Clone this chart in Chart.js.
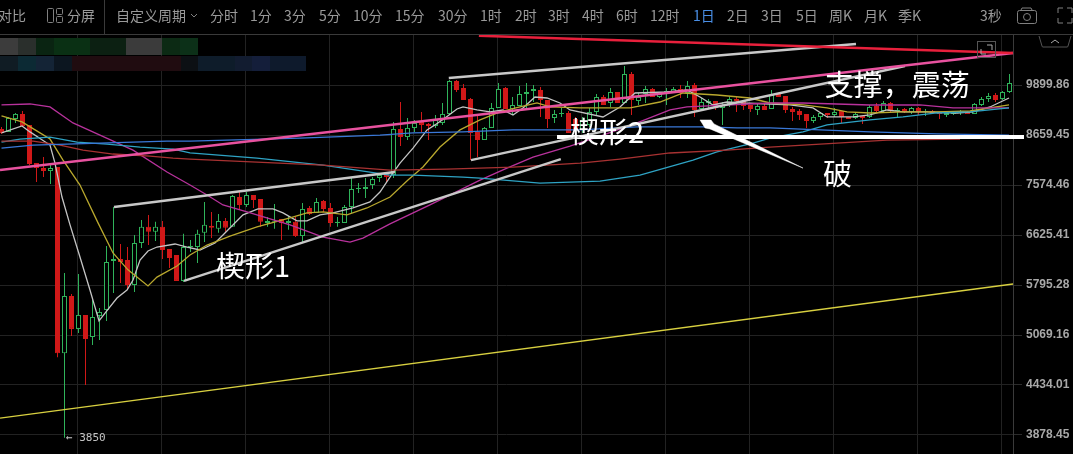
<!DOCTYPE html>
<html><head><meta charset="utf-8">
<style>
html,body{margin:0;padding:0;background:#000;overflow:hidden}
#wrap{position:relative;width:1073px;height:454px;overflow:hidden;background:#000}
#c{position:absolute;left:0;top:0}
.t{position:absolute;top:6px;font:14px/18px "Noto Sans CJK SC",sans-serif;color:#9a9a9a;white-space:nowrap}
.b{position:absolute}
</style></head><body><div id="wrap"><canvas id="c" width="1073" height="454"></canvas></div>
<script src="https://cdn.jsdelivr.net/npm/chart.js@4"></script>
<script>
const opens=[8802,8732,9040,9162,8897,8033,7926,7863,7948,4829,5627,5153,5349,5042,5335,5421,6180,6213,6197,5795,6485,6772,6682,6772,6382,6280,5859,6416,6416,6664,6790,6736,6881,6772,7335,7181,7375,7296,6844,6863,6918,6844,6863,6607,7123,7029,7258,7123,6844,6844,7142,7494,7494,7574,7717,7800,7779,8802,8613,8826,8968,8920,8873,8944,9162,10007,9821,9537,8732,8544,8826,9310,9821,9285,9360,9665,9743,9769,9511,9064,9162,9186,9040,8779,8897,9211,9588,9435,9717,9435,10197,9486,9665,9795,9588,9691,9717,9795,9691,9900,9285,9435,9486,9310,9385,9537,9486,9385,9260,9360,9285,9665,9613,9285,9235,9162,8992,9089,9186,9137,9235,9089,9064,9113,9089,9360,9235,9435,9235,9285,9211,9310,9211,9235,9186,9137,9162,9186,9211,9162,9385,9537,9639,9537,9717];
const highs=[8849,9089,9186,9235,8897,8033,8163,7990,7948,5986,5657,5970,5349,5567,5450,6433,7142,6468,6416,6625,6899,6992,6863,6881,6382,6280,6647,6537,6718,7238,7048,7011,6936,7375,7434,7434,7375,7296,6955,7200,6918,6973,6955,7219,7162,7316,7277,7219,6955,7181,7737,7614,7717,7737,7821,7800,8968,9460,9064,9016,9211,8944,9137,9435,10034,10034,9927,9562,9137,8849,9435,9953,9847,9588,9874,9953,9900,9847,9511,9260,9310,9235,9089,9089,9310,9665,9639,9821,9717,10418,10252,9691,9874,9821,9717,9821,9847,9900,10007,9953,9562,9537,9486,9460,9588,9588,9486,9385,9435,9410,9769,9691,9613,9335,9285,9162,9137,9211,9186,9310,9235,9089,9211,9113,9385,9435,9486,9460,9310,9310,9335,9335,9285,9260,9186,9211,9235,9260,9235,9435,9588,9691,9691,9743,10197];
const lows=[8685,8732,8944,8873,7990,7634,7737,7594,4777,3850,5056,5098,4434,4934,5001,5264,5673,5828,5718,5688,6399,6450,6520,6213,6066,5859,5843,6331,6147,6502,6572,6664,6682,6772,7086,7142,7123,6772,6772,6736,6537,6718,6590,6502,6992,7029,7048,6772,6772,6844,7029,7414,7316,7494,7634,7634,7717,8407,8544,8732,8732,8544,8826,8897,9162,9717,9511,8098,8163,8544,8826,9310,9285,9137,9360,9310,9460,9089,8826,8944,9089,8709,8732,8709,8849,9137,9385,9335,9435,9435,9137,9385,9435,9588,9562,9385,9691,9562,9562,9089,9285,9310,9260,8897,9335,9211,9260,9211,9137,9260,9285,9588,9186,8992,9016,8826,8944,9016,9064,9089,8944,9040,9040,8920,9064,9186,9211,9186,9064,9186,9162,9137,9113,9162,9040,9089,9137,9137,9162,9162,9360,9460,9460,9511,9691];
const closes=[8709,9064,9162,8873,8012,7926,7863,7926,4829,5627,5153,5349,5015,5320,5392,6164,6213,6164,5795,6485,6772,6682,6772,6365,6230,5859,6416,6433,6647,6808,6754,6881,6754,7355,7181,7375,7277,6863,6881,6881,6844,6881,6607,7104,7011,7238,7104,6844,6863,7142,7494,7514,7534,7696,7779,7737,8802,8613,8826,8944,8897,8873,9016,9162,10007,9769,9511,8709,8544,8826,9310,9795,9285,9385,9665,9717,9795,9511,9040,9162,9186,8709,8779,9016,9211,9588,9385,9717,9435,10197,9511,9588,9795,9588,9691,9743,9795,9691,9874,9260,9460,9486,9310,9385,9537,9486,9360,9285,9360,9260,9639,9588,9260,9211,9137,8992,9089,9186,9137,9211,9089,9040,9162,9064,9335,9235,9435,9235,9260,9211,9310,9211,9235,9186,9162,9186,9211,9211,9162,9410,9537,9613,9511,9717,9953];
const candleIndex=opens.map((_,i)=>i);
const priceTicks=[9899.86,8659.45,7574.46,6625.41,5795.28,5069.16,4434.01,3878.45];
const dayGrid=[11,23,35,47,59,71,83,95,107,119,131,143];
// moving averages: knots [candle position, price]
const maWhiteX=[0,2.93,4.07,6.93,7.64,8.64,9.79,11.21,12.64,13.93,14.93,16.5,17.93,18.79,19.79,20.93,22.21,24.79,26.5,28.36,30.5,31.64,34.5,36.64,38.79,40.21,42.21,43.64,45.5,47.36,50.21,52.64,54.07,55.5,56.93,58.79,60.79,61.93,63.36,65.07,65.93,67.93,69.79,71.64,73.07,74.5,76.21,77.93,79.79,81.21,85.93,88.36,90.5,95.07,97.93,99.79,101.64,103.64,105.93,109.79,112.64,115.93,117.93,121.64,124.07,126.5,128.79,132.21,136.5,138.79,141.21,143.93];
const maWhiteP=[8709,8873,8732,8430,8033,7335,6808,6246,5718,5264,5392,5597,5718,5874,6197,6348,6416,6468,6416,6365,6485,6625,6992,7104,7104,7029,6881,6881,6992,7029,7123,7238,7434,7737,8033,8362,8779,8897,9064,9285,9335,9260,9211,9260,9137,9310,9588,9562,9435,9260,9089,9335,9691,9717,9769,9588,9385,9460,9435,9410,9385,9310,9089,9089,9137,9260,9211,9211,9186,9211,9335,9562];
const maYellowX=[0,2.93,5.5,6.93,8.79,11.21,13.79,15.93,18.07,20.93,22.21,25.07,26.93,29.36,32.64,36.5,41.21,43.64,45.93,49.36,52.21,55.5,58.07,60.21,62.64,65.5,68.36,71.21,74.07,76.5,78.36,82.64,89.79,94.07,97.36,102.21,106.93,109.79,114.5,117.93,120.79,124.07,128.79,133.64,138.36,143.93];
const maYellowP=[9113,8968,8709,8567,8098,7574,6844,6314,6035,5780,5920,6098,6280,6450,6607,6772,6936,7029,7048,6992,7123,7335,7675,7948,8385,8779,9016,9211,9335,9435,9335,9310,9310,9460,9691,9639,9562,9435,9385,9310,9211,9186,9211,9211,9235,9385];
const maMagentaX=[0,4.07,6.93,10.21,14.07,18.79,23.64,26.93,29.36,31.64,35.07,41.21,45.93,49.79,51.64,55.5,61.21,68.36,72.21,75.93,81.21,85.93,90.79,95.5,97.93,109.79,114.5,124.07,131.21,135.93,143.93];
const maMagentaP=[9385,9410,9335,8944,8659,8317,7842,7574,7375,7181,7048,6808,6590,6502,6572,6826,7181,7675,7926,8163,8407,8659,8944,9260,9335,9435,9435,9385,9385,9310,9310];
const maRedX=[0,4.5,8.36,11.64,15.93,21.21,24.5,26.93,36.5,45.93,55.5,63.64,73.07,82.64,88.36,95.5,103.64,109.79,119.36,126.5,136.93];
const maRedP=[8521,8521,8430,8317,8230,8185,8141,8120,8054,7990,7884,7905,7948,8033,8120,8253,8317,8385,8475,8544,8567];
const maCyanX=[0,2.64,6.93,10.79,15.07,19.79,24.5,26.93,36.5,45.93,55.5,58.79,65.93,68.36,76.93,85.5,91.21,98.79,102.21,107.36,109.79,114.5,117.93,124.07,128.79,133.64,138.36,143.93];
const maCyanP=[8498,8567,8613,8498,8452,8385,8340,8253,8141,7990,7779,7779,7737,7717,7614,7654,7779,8098,8275,8475,8590,8732,8897,9016,9089,9186,9211,9310];
const maBlueX=[0,4.5,9.36,14.07,18.79,23.64,26.93,42.64,54.07,58.79,65.93,73.07,82.64,90.79,100.21,105.07,109.79,116.93,124.07,133.64,143.93];
const maBlueP=[8362,8430,8452,8475,8498,8521,8521,8590,8659,8709,8732,8779,8779,8849,8849,8826,8826,8779,8732,8685,8659];
// drawn trend lines: [start candle, end candle], [start price, end price]
const pinkX=[-0.21,144.5],pinkP=[7884,10786];
const redX=[68.2,144.5],redP=[11300,10786];
const topX=[63.9,122.07],topP=[10088,11049];
const wedge1UX=[16.07,56.2],wedge1UP=[7142,7842];
const wedge1LX=[26.07,79.9],wedge1LP=[5859,8120];
const wedge2X=[67.07,129.07],wedge2P=[8098,10418];
const yellowX=[-0.21,144.5],yellowP=[4058,5810];
const flatX=[79.36,146.07],flatP=[8613,8613];
const arrowX=[99.79,101.36,101.79,114.5,101.21,100.5,99.79];
const arrowP=[9016,9016,8920,7926,8802,8826,9016];
const annotationTexts=['楔形1','楔形2','支撑，震荡','破'];
const annotationX=[30.64,81.2,117.6,117.36];
const annotationP=[6103,8732,9900,7800];
const lowLabel='← 3850';
const lowLabelIdx=9.2,lowLabelPrice=3850;

const xy=(xs,ys)=>xs.map((x,i)=>({x,y:ys[i]}));
const GREEN='#2fb35a',RED='#d01818';
const isUp=i=>closes[i]>=opens[i];
const ma=(l,xs,ys,c)=>({type:'line',label:l,data:xy(xs,ys),borderColor:c,borderWidth:1.3,pointRadius:0,tension:0,order:2});
const trend=(l,xs,ys,c,w)=>({type:'line',label:l,data:xy(xs,ys),borderColor:c,borderWidth:w,pointRadius:0,tension:0,order:1,clip:false});

const annotPlugin={id:'annot',afterDatasetsDraw(ch){
  const {ctx,scales:{x,y}}=ch;ctx.save();
  ctx.fillStyle='#fff';ctx.font='29px "Noto Sans CJK SC"';ctx.textBaseline='middle';ctx.textAlign='left';
  annotationTexts.forEach((t,i)=>ctx.fillText(t,x.getPixelForValue(annotationX[i]),y.getPixelForValue(annotationP[i])));
  ctx.font='11px "DejaVu Sans Mono"';ctx.fillStyle='#c4c4c4';
  ctx.fillText(lowLabel,x.getPixelForValue(lowLabelIdx),y.getPixelForValue(lowLabelPrice));
  ctx.restore();
}};

new Chart(document.getElementById('c'),{
  data:{datasets:[
    {type:'bar',label:'wick',data:candleIndex.map(i=>({x:i,y:[lows[i],highs[i]]})),grouped:false,
      backgroundColor:candleIndex.map(i=>isUp(i)?GREEN:RED),barThickness:1,order:6,borderWidth:0,inflateAmount:0},
    {type:'bar',label:'body',data:candleIndex.map(i=>({x:i,y:[opens[i],closes[i]]})),grouped:false,
      backgroundColor:candleIndex.map(i=>isUp(i)?'#000':RED),
      borderColor:candleIndex.map(i=>isUp(i)?GREEN:RED),borderWidth:1,borderSkipped:false,barThickness:5,order:5,inflateAmount:0},
    ma('MA blue',maBlueX,maBlueP,'#3a78d8'),
    ma('MA red',maRedX,maRedP,'#a83232'),
    ma('MA cyan',maCyanX,maCyanP,'#2ea3c4'),
    ma('MA magenta',maMagentaX,maMagentaP,'#b8329c'),
    ma('MA yellow',maYellowX,maYellowP,'#b9a82e'),
    ma('MA white',maWhiteX,maWhiteP,'#c4c4c4'),
    trend('yellow',yellowX,yellowP,'#d8d040',1.4),
    trend('red',redX,redP,'#e8203c',2.5),
    trend('pink',pinkX,pinkP,'#e8529f',2.6),
    trend('top',topX,topP,'#c8c8c8',2.4),
    trend('wedge1 upper',wedge1UX,wedge1UP,'#c8c8c8',2.4),
    trend('wedge1 lower',wedge1LX,wedge1LP,'#c8c8c8',2.4),
    trend('wedge2 lower',wedge2X,wedge2P,'#c8c8c8',2.4),
    trend('flat',flatX,flatP,'#ffffff',4),
    {type:'line',label:'arrow',data:xy(arrowX,arrowP),borderColor:'#ffffff',borderWidth:0.5,backgroundColor:'#ffffff',fill:'shape',pointRadius:0,tension:0,order:0,clip:false}
  ]},
  plugins:[annotPlugin],
  options:{
    responsive:false,animation:false,
    layout:{padding:{top:35,left:0,right:0,bottom:0}},
    plugins:{legend:{display:false},tooltip:{enabled:false}},
    scales:{
      x:{type:'linear',offset:false,min:-1.5/7,max:(1013-1.5)/7,bounds:'data',
        afterBuildTicks:s=>{s.ticks=dayGrid.map(v=>({value:v-1/7}))},
        afterFit:s=>{s.height=0},
        ticks:{display:false},border:{display:false},
        grid:{offset:false,color:'#222',lineWidth:1,drawTicks:false}},
      y:{type:'logarithmic',position:'right',bounds:'data',min:3686,max:11319,
        afterBuildTicks:s=>{s.ticks=priceTicks.map(v=>({value:v}))},
        afterFit:s=>{s.width=60;s.paddingTop=0;s.paddingBottom=0},
        ticks:{color:'#a8a8a8',font:{family:'"Liberation Sans"',size:12,weight:'bold'},padding:4,callback:v=>v.toFixed(2),autoSkip:false,maxRotation:0},
        border:{display:true,color:'#3a3a3a'},
        grid:{color:'#222',lineWidth:1,tickLength:9,tickColor:'#2c2c2c'}}
    }
  }
});

// toolbar and chrome
const wrap=document.getElementById('wrap');
const bar=[['对比',-2],['分屏',67],['自定义周期',116],['分时',210],['1分',250],['3分',284],['5分',319],['10分',353],['15分',395],['30分',438],['1时',480],['2时',515],['3时',548],['4时',582],['6时',616],['12时',650],['1日',693],['2日',727],['3日',761],['5日',796],['周K',829],['月K',864],['季K',898],['3秒',980]];
bar.forEach(([t,x])=>{const d=document.createElement('div');d.className='t';d.textContent=t;d.style.left=x+'px';if(t==='1日')d.style.color='#4a8fe6';wrap.appendChild(d)});
function box(x,y,w,h,c){const d=document.createElement('div');d.className='b';d.style.cssText+=`left:${x}px;top:${y}px;width:${w}px;height:${h}px;background:${c}`;wrap.appendChild(d)}
box(0,34,1073,1,'#3a3a3a');box(104,0,1,34,'#3a3a3a');
[[0,18,'#3c3c3c'],[18,18,'#2a2f2c'],[36,18,'#0a2412'],[54,36,'#0a3014'],[90,36,'#0c2012'],[126,36,'#3b3b3b'],[162,18,'#0c2a14'],[180,18,'#0c3018']].forEach(r=>box(r[0],38,r[1],17,r[2]));
[[0,18,'#101c24'],[18,18,'#0c2a34'],[36,18,'#142436'],[54,18,'#0c1620'],[72,109,'#200c10'],[181,17,'#0c1014'],[198,37,'#0e1c2a'],[235,17,'#121c30'],[252,18,'#141e3a'],[270,36,'#0e1a2c']].forEach(r=>box(r[0],56,r[1],15,r[2]));
const s=document.createElementNS('http://www.w3.org/2000/svg','svg');
s.setAttribute('width',1073);s.setAttribute('height',454);s.style.cssText='position:absolute;left:0;top:0';
s.innerHTML=`<g fill="none" stroke="#808080" stroke-width="1">
<rect x="47.5" y="8.5" width="6" height="14" rx="1"/><rect x="56.5" y="8.5" width="6" height="6" rx="1"/><rect x="56.5" y="16.5" width="6" height="6" rx="1"/>
<path d="M191 14l3 3l3-3"/>
<rect x="1017.5" y="10.5" width="19" height="13" rx="2"/><circle cx="1027" cy="17" r="3.5"/><path d="M1021 10l1-2h9l1 2"/>
<path d="M1058 13v-5h5M1067 8h5v5M1058 18v5h5M1072 18v5h-5"/>
<path d="M1039 36l3 10a1 1 0 0 0 1 1h24a1 1 0 0 0 1-1l3-10" stroke="#555"/><path d="M1051 43l4-3l4 3" stroke="#aaa"/>
<rect x="977.5" y="41.5" width="18" height="16" stroke="#555"/><path d="M987 45h5v5M986 54h-5v-5" stroke="#aaa"/></g>`;
wrap.appendChild(s);
</script></body></html>
